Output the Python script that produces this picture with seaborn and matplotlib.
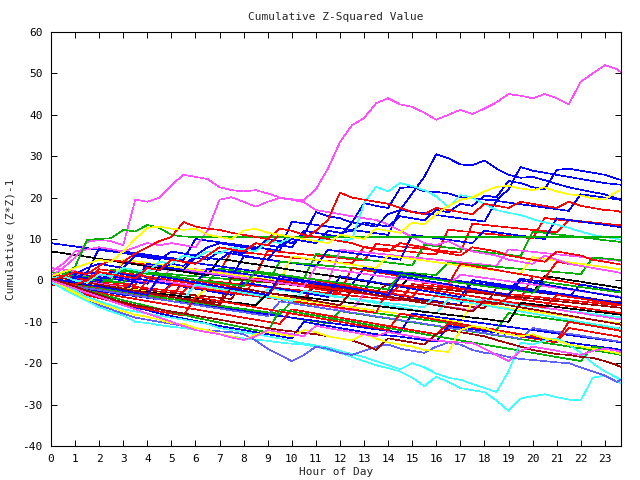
import matplotlib
matplotlib.use("Agg")
import matplotlib.pyplot as plt
import pandas as pd
import seaborn as sns

# time axis (hours), half-hour samples plus the last sample of the day
hours = [k / 2 for k in range(48)] + [23.67]

# ---- prominent runs ----
f01 = [1, 3, 5.5, 9.3, 9.8, 9.5, 8.5, 19.5, 19, 20, 23, 25.5, 25, 24.5, 22.5, 21.8,
       21.5, 21.8, 21, 20, 19.6, 19.4, 22, 27, 33.4, 37.5, 39.2, 42.8, 44, 42.5, 41.9, 40.5,
       38.8, 40, 41.2, 40.2, 41.5, 43, 45, 44.6, 44, 45, 44, 42.5, 48, 50, 52, 51, 50.3]
f02 = [2, 4, 7, 7.5, 8, 7.5, 7, 8, 9, 8.5, 9, 8.5, 8, 12, 19.5, 20.1,
       19, 17.8, 19, 19.9, 19.5, 18.9, 17, 16.5, 16, 15.5, 15, 14.6, 13.5, 12, 10.5, 9,
       8.5, 9.5, 8, 7, 6.5, 6, 5, 4.5, 4, 6, 5, 4, 3.5, 3, 2.5, 2, 1.8]
f03 = [1, 2, 1.5, 3, 4, 3.5, 3, 6, 5.5, 5, 7, 6.5, 6, 8, 9, 8.5,
       8, 7.5, 10, 9.5, 9, 11, 16.5, 15.5, 15, 14, 13.5, 13, 16, 17, 21, 25,
       30.5, 29.5, 28, 27.8, 29, 27, 25.5, 24.8, 25, 24.2, 23.3, 22.5, 21.9, 21.3, 20.8, 19.8, 19.4]
f04 = [0, -0.5, 1, 0.5, 0, 2, 1.5, 1, 3, 2.5, 4, 3.5, 6, 5.5, 5, 7,
       6.5, 9, 8.5, 8, 10, 9.5, 9, 12, 11.5, 12, 14, 13.5, 13, 15.5, 15, 14.5,
       17, 16.5, 18.5, 18, 20.5, 20.1, 24, 23.5, 22.5, 22, 26.7, 27, 26.5, 26, 25.5, 24.5, 24.3]
f05 = [-1, -0.5, 0.5, 2, 1.5, 1, 0.5, 0, 4, 3.5, 3, 2.5, 5.5, 5, 7, 6.5,
       6, 5.5, 5, 8.5, 8, 12, 11.5, 11, 10.5, 14, 18.7, 18, 17.5, 22.3, 22.6, 21.5,
       21.4, 21, 20.1, 19.8, 19.5, 19.4, 22, 27.4, 26.5, 26, 25.5, 25, 24.5, 24, 23.5, 23.2, 23.1]
f06 = [0.5, 1, 0, -0.5, 1.5, 1, 3, 2.5, 2, 4.5, 4, 6, 5.5, 7, 6.5, 8,
       7.5, 7, 9.5, 9, 10.5, 10, 9.5, 10, 9.5, 10, 18.7, 22.6, 21.5, 23.5, 22.8, 21.8,
       20.3, 17.7, 20.6, 20, 18.5, 17, 16.3, 15.8, 14.8, 14, 13.5, 12.7, 11.8, 11, 10.5, 10, 9.8]
f07 = [0, 1, 3.3, 9.8, 10, 10.2, 12.2, 11.8, 13.4, 12.7, 11, 10.6, 10.5, 10.5, 10.5, 10.5,
       10.5, 10.5, 10.5, 10.5, 10.5, 10.5, 10.5, 10.5, 10.5, 10.5, 10.5, 10.5, 10.5, 10.5, 10.5, 10.5,
       10.5, 10.5, 10.5, 10.5, 10.5, 10.5, 10.5, 10.5, 10.5, 10.5, 10.5, 10.5, 10.5, 10.5, 10.5, 10.5, 10.5]
f08 = [0, 1, 2, 1.5, 3.5, 5, 4.5, 6.5, 8, 9.5, 10.5, 14.1, 13, 12.5, 12.2, 11.5,
       11, 10.5, 10, 12.5, 12, 11, 10.5, 10, 9.5, 9, 8, 7.5, 7, 9, 8.5, 8,
       7, 6.5, 6, 8, 7.5, 7, 6, 5.5, 5, 4.5, 7, 6.5, 6, 5, 4.5, 4, 3.8]
f09 = [0.5, -0.5, -1, 0, 2, 1.5, 1, 0.5, 3, 2.5, 5, 4.5, 4, 6, 8, 7.5,
       7, 9, 8.5, 11, 10.5, 10, 12, 14.6, 21.2, 20, 19.5, 19, 18.5, 17.5, 16.5, 16,
       17.5, 17, 16.5, 16, 18.5, 18, 17.5, 19, 18.5, 18, 17.5, 19, 18, 17.5, 17, 16.8, 16.5]
f10 = [1, 2, 3, 4, 5, 4.5, 7, 10, 12.7, 13, 12.5, 12.2, 12.5, 11, 10.5, 10,
       12, 12.5, 11.5, 11, 10.5, 10, 9.5, 9, 11, 10.5, 10, 12.5, 12, 11.5, 14, 13.5,
       16, 18, 19.5, 20, 21.5, 22.6, 22.8, 22.2, 21.8, 22.5, 21.5, 20.8, 20.5, 19.8, 19.5, 21.5, 21.8]
f11 = [-0.5, -2, -3.5, -5, -6.5, -7.5, -8.5, -10, -10.3, -10.8, -11.2, -11.5, -12, -12.5, -13, -13.5,
       -14, -14.3, -14.6, -15, -15.3, -15.5, -16, -16.8, -17.5, -18.5, -19.5, -20.5, -21.2, -22, -23.5, -25.5,
       -23.3, -24.5, -26, -26.5, -27, -29, -31.5, -28.5, -28, -27.5, -28.2, -28.8, -29, -23.5, -23, -24.5, -24.8]
f12 = [0.5, -1, -2.5, -4, -5, -6, -7, -7.5, -8, -8.5, -9, -9.5, -10, -10.5, -11.5, -12,
       -12.5, -13, -13.5, -14, -14.7, -15.2, -15.7, -16.2, -17, -17.8, -18.5, -19.5, -20.5, -21.5, -20, -21,
       -22.5, -23.5, -24, -25, -26, -27, -22, -15, -15.5, -14.5, -14, -15.5, -17.5, -20, -22, -23.5, -24]
f13 = [0, -1.5, -3, -4.5, -6, -7, -8, -9, -9.5, -10, -10.5, -11, -11.5, -12, -12.3, -12.5,
       -13, -14.5, -16.5, -18, -19.5, -18, -16, -16.5, -17.5, -18, -17, -16, -15.5, -16.5, -17, -17.5,
       -16, -15, -15.5, -16.8, -17.5, -17.8, -18.5, -19, -19.2, -19.5, -19.8, -20, -21, -22, -23, -24.5, -24]
f14 = [0.5, -0.5, -1.5, -2.5, -3.5, -4.5, -5.3, -6, -6.5, -7, -7.5, -8, -8.5, -9, -9.5, -10,
       -10.5, -11, -11.5, -12, -12.3, -12.7, -13, -13.5, -14, -14.5, -15.5, -16.8, -14, -14.5, -15, -15.5,
       -13, -12, -12.5, -13, -13.5, -14.4, -15.2, -16, -16.8, -17.3, -17.8, -18, -18.5, -18.7, -19.5, -20.5, -20.9]
f15 = [0, -1.5, -3, -4.5, -5.5, -6.5, -7.5, -8.3, -8.8, -9.5, -10.3, -10.5, -11.5, -12, -13, -13.5,
       -14.4, -13, -12.5, -13, -13.5, -12, -12.5, -13.5, -14, -14.5, -13, -14, -15, -15.5, -16, -16.8,
       -17, -17.3, -12, -11, -11.5, -12.5, -13, -13.5, -13, -14, -14.5, -15.5, -16, -16.5, -17, -17.5, -17.8]
f16 = [0, -1, -2, -3, -4, -5, -6, -7, -8, -9, -10, -11, -12, -12.5, -13, -13.8,
       -14.4, -13.5, -12, -12.5, -13, -13.5, -11, -11.5, -12, -12.5, -13, -13.5, -12.5, -13, -13.5, -14,
       -14.5, -14.8, -15, -15.1, -16.5, -18, -19.5, -17, -16, -16.5, -17, -17.5, -18, -17, -16.5, -17, -17.3]

# ---- the bulk of the runs (estimated) ----
b01 = [2, 1.6, 1.3, 1.1, 0.7, 0.5, 4.5, 4.1, 3.9, 3.5, 3.3, 2.9, 2.7, 2.3, 2.1, 7.1, 6.7, 6.5, 6.1, 5.9,
       5.5, 5.3, 4.9, 4.7, 4.3, 4.1, 8.1, 7.7, 7.5, 7.1, 6.9, 6.5, 6.3, 12.3, 11.9, 11.7, 11.3, 11.1, 10.7,
       10.5, 10.1, 15.1, 14.7, 14.5, 14.1, 13.9, 13.5, 13.3, 13.2]
b02 = [3, 2.6, 2.2, 1.8, 7.8, 7.4, 7, 6.6, 6.2, 5.8, 5.4, 5, 10, 9.6, 9.2, 8.8, 8.4, 8, 7.6, 7.2,
       14.2, 13.8, 13.4, 13, 12.6, 12.2, 11.8, 11.4, 11, 17, 16.6, 16.2, 15.8, 15.4, 15, 14.6, 14.2,
       19.2, 18.8, 18.4, 18, 17.6, 17.2, 16.8, 20.8, 20.4, 20, 19.6, 19.5]
b03 = [1, 0.7, 0.4, 0.1, -0.2, -0.5, -0.8, -1.1, 3.9, 3.6, 3.3, 3, 2.7, 2.4, 2.1, 1.8, 1.5, 1.2,
       7.2, 6.9, 6.6, 6.3, 6, 5.7, 5.4, 5.1, 4.8, 8.8, 8.5, 8.2, 7.9, 7.6, 7.3, 7, 6.7,
       13.7, 13.4, 13.1, 12.8, 12.5, 12.2, 11.9, 11.6, 14.6, 14.3, 14, 13.7, 13.4, 13.3]
b04 = [0, -0.4, -0.7, -1.1, -1.4, 2.6, 2.3, 1.9, 1.6, 1.2, 0.9, 0.5, 0.2, -0.2, 2.8, 2.5, 2.1, 1.8,
       1.4, 1.1, 0.7, 0.4, 6.4, 6.1, 5.7, 5.4, 5, 4.7, 4.3, 4, 3.6, 8.6, 8.3, 7.9, 7.6, 7.2, 6.9, 6.5,
       6.2, 5.8, 11.8, 11.5, 11.1, 10.8, 10.4, 10.1, 9.7, 9.4, 9.3]
b05 = [2, 1.7, 1.4, 1.1, 0.8, 0.5, 0.2, -0.1, -0.4, -0.7, 3.3, 3, 2.7, 2.4, 2.1, 1.8, 1.5, 1.2, 0.9,
       0.6, 0.3, 0, -0.3, -0.6, 7.4, 7.1, 6.8, 6.5, 6.2, 5.9, 5.6, 5.3, 5, 4.7, 4.4, 4.1, 3.8, 3.5,
       7.5, 7.2, 6.9, 6.6, 6.3, 6, 5.7, 5.4, 5.1, 4.8, 4.7]
b06 = [-1, -1.4, -1.8, 1.2, 0.8, 0.4, 0, -0.4, -0.8, 3.2, 2.8, 2.4, 2, 1.6, 1.2, 0.8, 5.8, 5.4, 5,
       4.6, 4.2, 3.8, 3.4, 7.4, 7, 6.6, 6.2, 5.8, 5.4, 5, 11, 10.6, 10.2, 9.8, 9.4, 9, 12, 11.6, 11.2,
       10.8, 10.4, 10, 15, 14.6, 14.2, 13.8, 13.4, 13, 12.9]
b07 = [0.5, 0.2, -0.1, -0.4, -0.7, -1, -1.3, -1.6, -1.9, -2.2, -2.5, -2.8, 0.2, -0.1, -0.4, -0.7, -1,
       -1.3, -1.6, -1.9, -2.2, -2.5, -2.8, -3.1, -3.4, -3.7, -4, -4.3, -4.6, -4.9, -0.9, -1.2, -1.5,
       -1.8, -2.1, -2.4, -2.7, -3, -3.3, -3.6, -3.9, -4.2, -4.5, -4.8, -5.1, -5.4, -5.7, -6, -6.1]
b08 = [1, 0.8, 0.5, 0.3, 0, -0.3, -0.5, 2.2, 2, 1.7, 1.5, 1.2, 1, 0.7, 0.5, 0.2, 0, -0.3, -0.5,
       4.5, 4.3, 4, 3.8, 3.5, 3.3, 3, 2.8, 2.5, 2.3, 2, 1.8, 1.5, 1.3, 4.3, 4, 3.8, 3.5, 3.3, 3, 2.8,
       2.5, 2.3, 2, 1.8, 1.5, 5.5, 5.3, 5, 4.9]
b09 = [0, -0.5, -0.9, -1.4, -1.8, -2.3, -2.7, -3.2, -3.6, -4.1, -0.5, -1, -1.4, -1.9, -2.3, -2.8,
       -3.2, -3.7, -4.1, -4.6, -5, -5.5, -0.5, -1, -1.4, -1.9, -2.3, -2.8, -3.2, -3.7, -4.1, -4.6, -5,
       -5.5, -5.9, 0.1, -0.4, -0.8, -1.3, -1.7, -2.2, -2.6, -3.1, -3.5, -4, -4.4, -4.9, -5.3, -5.5]
b10 = [-0.5, -0.9, -1.2, -1.6, -1.9, -2.3, -2.6, -3, -3.3, -3.7, -4, -4.4, -4.7, -5.1, -5.4, 0.6, 0.3,
       -0.1, -0.4, -0.8, -1.1, -1.5, -1.8, -2.2, -2.5, -2.9, -3.2, -3.6, -3.9, -4.3, -4.6, -5, -5.3,
       -5.7, -6, -6.4, -6.7, -1.7, -2.1, -2.4, -2.8, -3.1, -3.5, -3.8, -4.2, -4.5, -4.9, -5.2, -5.3]
b11 = [2, 1.6, 1.2, 0.8, 0.4, 0, 5, 4.6, 4.2, 3.8, 3.4, 3, 2.6, 2.2, 1.8, 1.4, 1, 0.6, 0.2, -0.2,
       5.8, 5.4, 5, 4.6, 4.2, 3.8, 3.4, 3, 6, 5.6, 5.2, 4.8, 4.4, 4, 3.6, 3.2, 2.8, 2.4, 2, 1.6,
       5.6, 5.2, 4.8, 4.4, 4, 3.6, 3.2, 2.8, 2.7]
b12 = [7, 6.6, 6.1, 5.7, 5.2, 4.8, 4.3, 3.9, 3.4, 3, 2.5, 2.1, 1.6, 1.2, 5.2, 4.8, 4.3, 3.9, 3.4, 3,
       2.5, 2.1, 1.6, 1.2, 0.7, 0.3, -0.2, -0.6, -1.1, -1.5, 1.5, 1.1, 0.6, 0.2, -0.3, -0.7, -1.2, -1.6,
       -2.1, -2.5, -3, 1, 0.6, 0.1, -0.3, -0.8, -1.2, -1.7, -1.9]
b13 = [9, 8.6, 8.2, 7.8, 7.4, 7, 6.6, 6.2, 5.8, 5.4, 5, 4.6, 4.2, 3.8, 3.4, 3, 2.6, 2.2, 1.8, 1.4,
       1, 0.6, 0.2, -0.2, -0.6, -1, 3, 2.6, 2.2, 1.8, 1.4, 1, 0.6, 0.2, -0.2, -0.6, -1, -1.4, -1.8,
       -2.2, -2.6, -3, -3.4, -3.8, -4.2, -4.6, -5, -5.4, -5.5]
b14 = [-1, -1.5, -2, -2.5, -3, -3.5, -4, -4.5, 0.5, 0, -0.5, -1, -1.5, -2, -2.5, -3, -3.5, 0.5, 0,
       -0.5, -1, -1.5, -2, -2.5, -3, 3, 2.5, 2, 1.5, 1, 0.5, 0, -0.5, -1, 4, 3.5, 3, 2.5, 2, 1.5, 1,
       0.5, 4.5, 4, 3.5, 3, 2.5, 2, 1.8]
b15 = [0, -0.4, -0.7, -1.1, -1.4, -1.8, -2.1, -2.5, -2.8, -3.2, -3.5, -3.9, -4.2, -4.6, -4.9, -5.3,
       -5.6, -6, -2, -2.3, -2.7, -3, -3.4, -3.7, -4.1, -4.4, -4.8, -5.1, -5.5, -5.8, -6.2, -6.5, -3.5,
       -3.9, -4.2, -4.6, -4.9, -5.3, -5.6, -6, -6.3, -6.7, -7, -7.4, -7.7, -8.1, -8.4, -8.8, -8.9]
b16 = [-0.5, -0.9, -1.3, -1.7, -2.1, -2.5, -2.9, -3.3, -3.7, -4.1, -4.5, -4.9, -5.3, -5.7, -6.1, -6.5,
       -6.9, -7.3, -7.7, -8.1, -5.1, -5.5, -5.9, -6.3, -6.7, -7.1, -7.5, -7.9, -8.3, -8.7, -9.1, -9.5,
       -9.9, -10.3, -10.7, -11.1, -11.5, -11.9, -7.9, -8.3, -8.7, -9.1, -9.5, -9.9, -10.3, -10.7, -11.1,
       -11.5, -11.6]
b17 = [1, 0.6, 0.2, -0.2, -0.6, 2, 1.6, 1.2, 0.8, 0.4, 0, -0.4, -0.8, 2.8, 2.4, 2, 1.6, 1.2, 0.8,
       0.4, 0, -0.4, -0.8, -1.2, -1.6, -2, -2.4, 2.2, 1.8, 1.4, 1, 0.6, 0.2, -0.2, -0.6, -1, -1.4, -1.8,
       -2.2, 0.4, 0, -0.4, -0.8, -1.2, -1.6, -2, -2.4, -2.8, -2.9]
b18 = [0, -0.5, -1, -1.5, -2, -2.5, -3, -3.5, -4, -4.5, -5, 0.5, 0, -0.5, -1, -1.5, -2, -2.5, -3,
       -3.5, -4, -4.5, 0, -0.5, -1, -1.5, -2, -2.5, -3, -3.5, -4, -0.5, -1, -1.5, -2, -2.5, -3, -3.5,
       -4, -4.5, 1, 0.5, 0, -0.5, -1, -1.5, -2, -2.5, -2.7]
b19 = [1, 0.6, 0.1, -0.4, -0.8, -1.3, -1.7, -2.2, -2.6, 0, -0.5, -0.9, -1.4, -1.8, -2.3, -2.7, -3.2,
       -3.6, -4.1, -4.5, -5, -5.4, -5.9, -6.3, -6.8, -7.2, -3.2, -3.7, -4.1, -4.6, -5, -5.5, -5.9, -6.4,
       -6.8, -7.3, -4.3, -4.8, -5.2, -5.7, -6.1, -6.6, -7, -7.5, -7.9, -8.4, -8.8, -9.3, -9.4]
b20 = [0, -0.3, -0.6, -0.9, -1.2, -1.5, -1.8, -2.1, -2.4, -2.7, -3, -3.3, -3.6, -3.9, -4.2, -4.5, 0.5,
       0.2, -0.1, -0.4, -0.7, -1, -1.3, -1.6, -1.9, -2.2, -2.5, -2.8, -0.8, -1.1, -1.4, -1.7, -2, -2.3,
       -2.6, -2.9, -3.2, -3.5, -3.8, -4.1, -4.4, -4.7, -5, -5.3, -5.6, -5.9, -6.2, -6.5, -6.6]
b21 = [-0.5, -1, -1.5, -2, -2.5, -3, -3.5, 0.5, 0, -0.5, -1, -1.5, -2, -2.5, -3, -3.5, -0.5, -1, -1.5,
       -2, -2.5, -3, -3.5, -4, 1, 0.5, 0, -0.5, -1, -1.5, -2, -2.5, -3, -3.5, -4, 0, -0.5, -1, -1.5,
       -2, -2.5, -3, -3.5, -4, -1, -1.5, -2, -2.5, -2.7]
b22 = [0.5, 0.1, -0.3, -0.7, -1.1, -1.5, -1.9, -2.3, -2.7, -3.1, -3.5, -3.9, -4.3, -1.7, -2.1, -2.5,
       -2.9, -3.3, -3.7, -4.1, -4.5, -4.9, -5.3, -5.7, -6.1, -6.5, -6.9, -7.3, -7.7, -8.1, -8.5, -8.9,
       -9.3, -9.7, -10.1, -5.5, -5.9, -6.3, -6.7, -7.1, -7.5, -7.9, -8.3, -8.7, -9.1, -9.5, -9.9, -10.3,
       -10.4]
b23 = [1.5, 1.1, 0.6, 0.2, 2.7, 2.3, 1.8, 1.4, 0.9, 0.5, 0, -0.4, -0.9, -1.3, -1.8, -2.2, -2.7, -3.1,
       -3.6, 0, -0.5, -0.9, -1.4, -1.8, -2.3, -2.7, -3.2, -3.6, -4.1, -1.1, -1.6, -2, -2.5, -2.9, -3.4,
       -3.8, -4.3, -4.7, -5.2, -5.6, -6.1, -6.5, -3.5, -4, -4.4, -4.9, -5.3, -5.8, -6]
b24 = [0, -0.5, -0.9, -1.4, -1.8, -2.3, -2.7, -3.2, -3.6, -4.1, -4.5, -5, -5.4, -5.9, -6.3, -6.8, -7.2,
       -7.7, -8.1, -8.6, -9, -9.5, -9.9, -10.4, -7.4, -7.9, -8.3, -8.8, -9.2, -9.7, -10.1, -10.6, -11,
       -11.5, -11.9, -12.4, -12.8, -13.3, -13.7, -14.2, -14.6, -15.1, -15.5, -16, -16.4, -16.9, -17.3,
       -17.8, -18]
b25 = [-1, -1.4, -1.8, -2.2, -2.6, -3, -3.4, -3.8, -4.2, -4.6, -5, -5.4, -5.8, -6.2, -6.6, -7, -7.4,
       -7.8, -8.2, -8.6, -9, -9.4, -9.8, -10.2, -10.6, -11, -11.4, -11.8, -12.2, -12.6, -8, -8.4, -8.8,
       -9.2, -9.6, -10, -10.4, -10.8, -11.2, -11.6, -12, -12.4, -12.8, -13.2, -13.6, -14, -14.4, -14.8,
       -15]
b26 = [0, -0.4, -0.8, -1.2, -1.6, -2, -2.4, -2.8, -3.2, -3.6, -1, -1.4, -1.8, -2.2, -2.6, -3, -3.4,
       -3.8, -4.2, -4.6, -5, -5.4, -5.8, -6.2, -6.6, -7, -7.4, -7.8, -2.2, -2.6, -3, -3.4, -3.8, -4.2,
       -4.6, -5, -5.4, -5.8, -4.2, -4.6, -5, -5.4, -5.8, -6.2, -6.6, -7, -7.4, -7.8, -7.9]
b27 = [1, 0.5, 0, -0.5, -1, -1.5, -2, -2.5, -3, -3.5, -4, -4.5, -1, -1.5, -2, -2.5, -3, -3.5, -4,
       -4.5, -5, -2.5, -3, -3.5, -4, -4.5, -5, -5.5, -6, -6.5, -7, -7.5, -8, -4.5, -5, -5.5, -6, -6.5,
       -7, -7.5, -8, -8.5, -9, -9.5, -10, -10.5, -11, -11.5, -11.7]
b28 = [0, -0.4, -0.7, -1.1, -1.4, -1.8, -2.1, -2.5, -2.8, -3.2, -3.5, -3.9, -4.2, -4.6, -4.9, -5.3,
       -5.6, -6, -3, -3.4, -3.7, -4.1, -4.4, -4.8, -5.1, -5.5, -5.8, -6.2, -6.5, -6.9, -7.2, -7.6, -7.9,
       -8.3, -8.6, -9, -9.3, -9.7, -10, -5.4, -5.7, -6.1, -6.4, -6.8, -7.1, -7.5, -7.8, -8.2, -8.3]
b29 = [3, 2.6, 2.2, 1.8, 1.4, 1, 0.6, 0.2, 3.8, 3.4, 3, 2.6, 2.2, 1.8, 1.4, 1, 0.6, 0.2, -0.2, -0.6,
       -1, -1.4, 3.2, 2.8, 2.4, 2, 1.6, 1.2, 0.8, 0.4, 0, -0.4, -0.8, -1.2, 1.4, 1, 0.6, 0.2, -0.2,
       -0.6, -1, -1.4, -1.8, -2.2, -2.6, -3, -3.4, -3.8, -4]
b30 = [1, 0.5, 0, -0.5, -1, -1.5, -2, -2.5, -3, -3.5, -4, -4.5, -5, -5.5, -6, -1.5, -2, -2.5, -3,
       -3.5, -4, -4.5, -5, -5.5, -6, -2.5, -3, -3.5, -4, -4.5, -5, -5.5, -6, -6.5, -7, -7.5, -5, -5.5,
       -6, -6.5, -7, -7.5, -8, -8.5, -9, -9.5, -10, -10.5, -10.7]
b31 = [-0.5, -1, -1.4, -1.9, -2.3, -2.8, -3.2, -3.7, -4.1, -4.6, -5, -5.5, -5.9, -6.4, -6.8, -7.3,
       -7.7, -8.2, -8.6, -5.1, -5.5, -6, -6.4, -6.9, -7.3, -7.8, -8.2, -8.7, -9.1, -9.6, -10, -10.5,
       -10.9, -11.4, -11.8, -12.3, -12.7, -13.2, -13.6, -14.1, -11.5, -12, -12.4, -12.9, -13.3, -13.8,
       -14.2, -14.7, -14.8]
b32 = [2, 1.6, 1.2, 0.8, 0.4, 0, 2.6, 2.2, 1.8, 1.4, 1, 0.6, 0.2, -0.2, -0.6, -1, -1.4, 2.2, 1.8,
       1.4, 1, 0.6, 0.2, -0.2, -0.6, -1, -1.4, -1.8, -2.2, 1.4, 1, 0.6, 0.2, -0.2, -0.6, -1, -1.4,
       -1.8, -2.2, -2.6, -3, -0.4, -0.8, -1.2, -1.6, -2, -2.4, -2.8, -2.9]
b33 = [-1, -1.5, -2, -2.5, -3, -3.5, -4, -4.5, -5, -5.5, -6, -6.5, -7, -7.5, -8, -8.5, -9, -9.5, -10,
       -10.5, -7, -7.5, -8, -8.5, -9, -9.5, -10, -10.5, -11, -11.5, -12, -12.5, -13, -10.5, -11, -11.5,
       -12, -12.5, -13, -13.5, -14, -14.5, -15, -11.5, -12, -12.5, -13, -13.5, -13.7]
b34 = [0.5, 0, -0.5, -1, -1.5, -2, -2.5, -3, -3.5, 1, 0.5, 0, -0.5, -1, -1.5, -2, -2.5, -3, -3.5, 1,
       0.5, 0, -0.5, -1, -1.5, -2, -2.5, -3, -3.5, 1, 0.5, 0, -0.5, -1, -1.5, -2, -2.5, -3, -3.5, 0,
       -0.5, -1, -1.5, -2, -2.5, -3, -3.5, -4, -4.2]
b35 = [0, -1, -2, -3, -4, -5, -5.8, -6.5, -7.2, -8, -8.6, -9.2, -9.8, -10.4, -11, -11.5, -12, -12.5,
       -13, -13.5, -14, -10, -10.5, -11, -11.5, -12, -12.5, -13, -13.3, -13.6, -14, -14.4, -14.8, -11,
       -11.4, -11.8, -12.2, -12.6, -13, -13.4, -13.8, -14.2, -14.6, -15, -15.4, -15.8, -16.2, -16.6,
       -16.8]
b36 = [-0.5, -1.5, -2.5, -3.5, -4.3, -5, -5.7, -6.3, -6.9, -7.5, -8, -8.5, -4, -4.5, -5, -5.5, -6,
       -6.5, -7, -7.5, -8, -8.5, -9, -9.5, -10, -10.5, -11, -11.5, -12, -8, -8.5, -9, -9.5, -10, -10.5,
       -11, -11.5, -12, -12.5, -13, -13.5, -14, -14.5, -10, -10.5, -11, -11.5, -12, -12.2]
b37 = [0, -0.8, -1.6, -2.4, -3.2, -4, -4.8, -5.5, -6.2, -6.9, -7.6, -8.3, -9, -9.6, -10.2, -10.8,
       -11.4, -12, -12.5, -7, -7.5, -8, -8.5, -9, -9.5, -10, -10.5, -11, -11.5, -12, -12.5, -13, -13.5,
       -14, -14.5, -15, -15.5, -16, -16.5, -17, -17.5, -18, -18.5, -19, -19.5, -16, -16.5, -17, -17.2]

run_values = [b01, b02, b03, b04, b05, b06, b07, b08, b09, b10, b11, b12, b13, b14, b15, b16,
              b17, b18, b19, b20, b21, b22, b23, b24, b25, b26, b27, b28, b29, b30, b31, b32,
              b33, b34, b35, b36, b37,
              f01, f02, f03, f04, f05, f06, f07, f08, f09, f10, f11, f12, f13, f14, f15, f16]
run_names = ["b%02d" % i for i in range(1, 38)] + ["f%02d" % i for i in range(1, 17)]

# gnuplot-like colours for each run
RED, GRN, BLU, MAG, CYN = "#ff0000", "#00b000", "#0000ff", "#ff50ff", "#40ffff"
DRD, YEL, BLK, LBL = "#a00000", "#ffff00", "#000000", "#6060ff"
run_colors = [RED, BLU, RED, GRN, MAG, BLU, RED, GRN, BLU, DRD, YEL, BLK, BLU, RED, CYN, GRN,
              BLU, RED, MAG, DRD, BLU, YEL, RED, GRN, BLU, RED, CYN, BLK, MAG, DRD, LBL, GRN,
              RED, BLU, BLU, RED, GRN,
              MAG, MAG, BLU, BLU, BLU, CYN, GRN, RED, RED, YEL, CYN, CYN, LBL, DRD, YEL, MAG]

rows = []
for name, vals in zip(run_names, run_values):
    assert len(vals) == len(hours), (name, len(vals))
    for h, v in zip(hours, vals):
        rows.append({"hour": h, "value": v, "run": name})
df = pd.DataFrame(rows)

sns.set_style("ticks")
plt.rcParams["font.family"] = ["DejaVu Sans Mono"]
plt.rcParams["axes.unicode_minus"] = False

fig = plt.figure(figsize=(6.4, 4.8), dpi=100)
ax = fig.add_axes([51 / 640, 34 / 480, 570 / 640, 414 / 480])

sns.lineplot(data=df, x="hour", y="value", hue="run", hue_order=run_names,
             palette=run_colors, estimator=None, sort=False, legend=False,
             linewidth=0.45, antialiased=False, ax=ax)

ax.set_xlim(0, 23.67)
ax.set_ylim(-40, 60)
ax.set_xticks(range(0, 24))
ax.set_yticks(range(-40, 61, 10))
ax.tick_params(direction="in", top=True, right=True, length=4.5, width=0.7,
               labelsize=8, pad=6, colors="black")
for s in ax.spines.values():
    s.set_linewidth(0.8)
    s.set_color("black")

ax.set_title("Cumulative Z-Squared Value", fontsize=8, pad=9)
ax.set_xlabel("Hour of Day", fontsize=8)
ax.xaxis.set_label_coords(0.5, -0.05)
ax.set_ylabel("Cumulative (Z*Z)-1", fontsize=8)
ax.yaxis.set_label_coords(-0.062, 0.5)

fig.savefig("out.png", dpi=100)
